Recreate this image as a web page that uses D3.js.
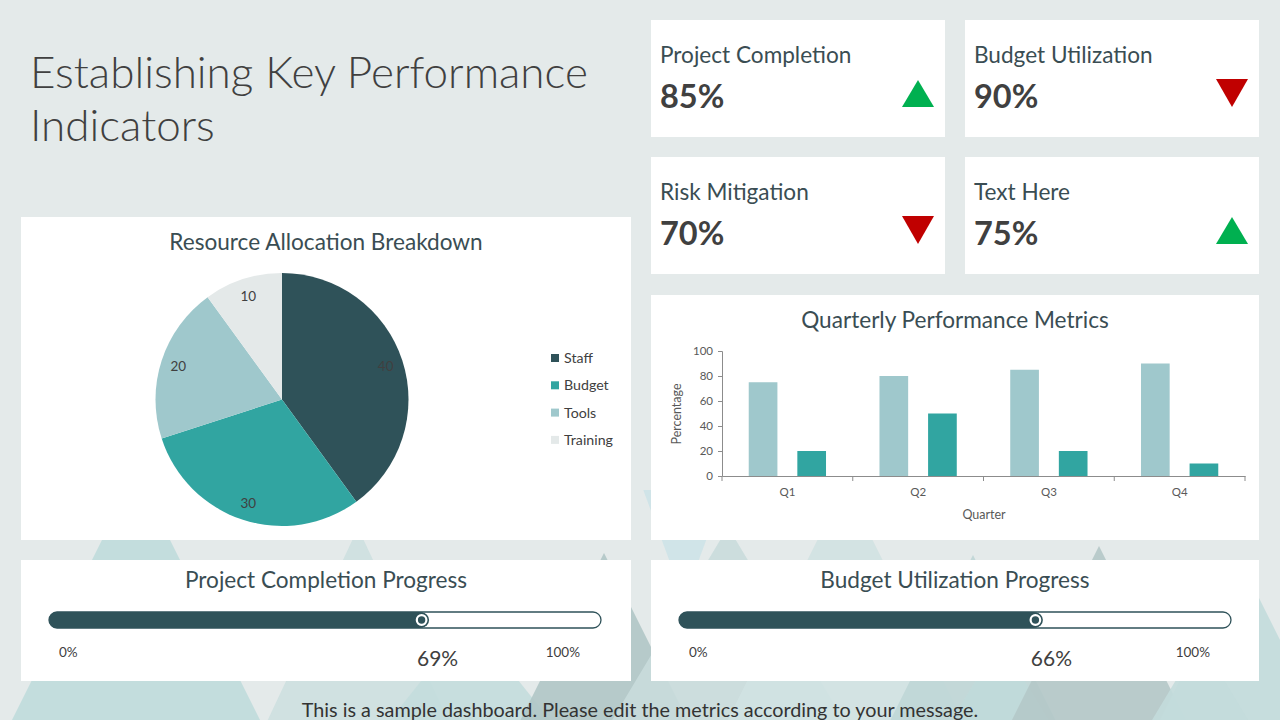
<!DOCTYPE html>
<html><head><meta charset="utf-8">
<script src="https://cdn.jsdelivr.net/npm/d3@7"></script>
<style>
html,body{margin:0;padding:0;background:#e4eaea;}
svg{display:block;font-family:Lato,"Open Sans",sans-serif;}
</style></head>
<body>
<svg id="c" width="1280" height="720"></svg>
<script>
// ---- data ----
const kpiLabels = ["Project Completion", "Budget Utilization", "Risk Mitigation", "Text Here"];
const kpiValues = [85, 90, 70, 75];
const kpiTrend = ["up", "down", "down", "up"];

const pieCategories = ["Staff", "Budget", "Tools", "Training"];
const pieValues = [40, 30, 20, 10];

const quarters = ["Q1", "Q2", "Q3", "Q4"];
const seriesNames = ["Target", "Actual"];
const seriesA = [75, 80, 85, 90];
const seriesB = [20, 50, 20, 10];
const yTicks = [0, 20, 40, 60, 80, 100];

const progressTitles = ["Project Completion Progress", "Budget Utilization Progress"];
const progressValues = [69, 66];

// ---- styles ----
const C = {
  bg: "#e4eaea", dark: "#2f5259", teal: "#31a5a1", light: "#9fc8cc", pale: "#e4e9e9",
  text: "#404040", title: "#3a4d53", green: "#00b050", red: "#c00000", axis: "#8c8c8c"
};
const pieColors = [C.dark, C.teal, C.light, C.pale];

const svg = d3.select("#c");
svg.append("rect").attr("width", 1280).attr("height", 720).attr("fill", C.bg);

// background triangles [apexX, apexY, slope, colour, inverted]
const tris = [
  [136, 472, 0.5, "#bfdcdc", 0], [358, 528, 0.47, "#cde0e0", 0], [470, 620, 0.8, "#c3dddd", 0],
  [604, 553, 0.5, "#b0c7c7", 0], [684, 600, 0.37, "#cde3e8", 1], [728, 527, 0.6, "#c9dcdc", 0],
  [845, 485, 0.5, "#d0e2e2", 0], [973, 555, 0.5, "#bfd6d6", 0], [1000, 640, 0.6, "#c0dada", 0],
  [1099, 546, 0.5, "#b4c8c8", 0], [1240, 560, 0.5, "#c2dcdc", 0], [1200, 640, 0.6, "#c3dcdc", 0]
];
svg.append("g").selectAll("path").data(tris).join("path")
  .attr("d", d => {
    if (d[4]) { const h = d[2] * (d[1] - 490); return `M${d[0]},${d[1]}L${d[0]+h},490L${d[0]-h},490Z`; }
    const h = d[2] * (730 - d[1]);
    return `M${d[0]},${d[1]}L${d[0]+h},730L${d[0]-h},730Z`;
  })
  .attr("fill", d => d[3]).attr("opacity", 0.9);

// title
const t = svg.append("text").attr("x", 30).attr("fill", C.text)
  .attr("font-size", 44).attr("font-weight", 300);
t.append("tspan").attr("x", 30).attr("y", 88).text("Establishing Key Performance");
t.append("tspan").attr("x", 30).attr("y", 141).text("Indicators");

// KPI cards
const cardX = [651, 965], cardY = [20, 157], cardW = 294, cardH = 117;
kpiLabels.forEach((lab, i) => {
  const x0 = cardX[i % 2], y0 = cardY[Math.floor(i / 2)];
  const g = svg.append("g").attr("transform", `translate(${x0},${y0})`);
  g.append("rect").attr("width", cardW).attr("height", cardH).attr("fill", "#fff");
  g.append("text").attr("x", 9).attr("y", 43).attr("font-size", 22.6).attr("fill", C.title).text(lab);
  g.append("text").attr("x", 9).attr("y", 88).attr("font-size", 32.5).attr("font-weight", 700)
    .attr("fill", C.text).text(kpiValues[i] + "%");
  const cx = cardW - 27, w = 16;
  const up = kpiTrend[i] === "up";
  const d = up ? `M${cx},60L${cx+w},87L${cx-w},87Z` : `M${cx-w},59L${cx+w},59L${cx},87Z`;
  g.append("path").attr("d", d).attr("fill", up ? C.green : C.red);
});

// Pie panel
svg.append("rect").attr("x", 21).attr("y", 217).attr("width", 610).attr("height", 323).attr("fill", "#fff");
svg.append("text").attr("x", 326).attr("y", 250).attr("text-anchor", "middle").attr("font-size", 22.6)
  .attr("fill", C.title).text("Resource Allocation Breakdown");
const pie = d3.pie().sort(null).value(d => d);
const R = 126.5;
const arc = d3.arc().innerRadius(0).outerRadius(R);
const labArc = d3.arc().innerRadius(109).outerRadius(109);
const pg = svg.append("g").attr("transform", "translate(282,399.5)");
const arcs = pie(pieValues);
pg.selectAll("path").data(arcs).join("path").attr("d", arc).attr("fill", (d, i) => pieColors[i]);
pg.selectAll("text").data(arcs).join("text")
  .attr("transform", d => `translate(${labArc.centroid(d)})`)
  .attr("text-anchor", "middle").attr("dy", "0.35em").attr("font-size", 13.5).attr("fill", C.text)
  .text(d => d.data);
const lg = svg.append("g").attr("transform", "translate(551,358)");
pieCategories.forEach((c, i) => {
  lg.append("rect").attr("x", 0).attr("y", i * 27.3 - 4).attr("width", 8).attr("height", 8).attr("fill", pieColors[i]);
  lg.append("text").attr("x", 13).attr("y", i * 27.3).attr("dy", "0.35em").attr("font-size", 14.2)
    .attr("fill", C.text).text(c);
});

// Bar panel
svg.append("rect").attr("x", 651).attr("y", 295).attr("width", 608).attr("height", 245).attr("fill", "#fff");
svg.append("text").attr("x", 955).attr("y", 328).attr("text-anchor", "middle").attr("font-size", 22.6)
  .attr("fill", C.title).text("Quarterly Performance Metrics");
const x = d3.scaleBand().domain(quarters).range([722, 1245]);
const xs = d3.scaleBand().domain(seriesNames).range([0, x.bandwidth()]).paddingInner(0.41).paddingOuter(0.55);
const y = d3.scaleLinear().domain([0, 100]).range([476, 351]);
const bg = svg.append("g");
const barData = quarters.flatMap((q, i) => [
  {q, s: seriesNames[0], v: seriesA[i], c: C.light},
  {q, s: seriesNames[1], v: seriesB[i], c: C.teal}
]);
bg.selectAll("rect").data(barData).join("rect")
  .attr("x", d => x(d.q) + xs(d.s)).attr("width", xs.bandwidth())
  .attr("y", d => y(d.v)).attr("height", d => y(0) - y(d.v)).attr("fill", d => d.c);
const ya = svg.append("g").attr("transform", "translate(722,0)")
  .call(d3.axisLeft(y).tickValues(yTicks).tickSize(4).tickPadding(5));
const xa = svg.append("g").attr("transform", "translate(0,476)")
  .call(d3.axisBottom(x).tickSize(0).tickPadding(12));
[ya, xa].forEach(a => {
  a.select(".domain").attr("stroke", C.axis);
  a.selectAll(".tick line").attr("stroke", C.axis);
  a.selectAll("text").attr("fill", "#595959").attr("font-size", 11.5).attr("font-family", "Lato,sans-serif");
});
const bounds = quarters.map(q => x(q)).concat([x(quarters[3]) + x.bandwidth()]);
xa.selectAll(".bnd").data(bounds).join("line").attr("class", "bnd")
  .attr("x1", d => d).attr("x2", d => d).attr("y1", 0).attr("y2", 5).attr("stroke", C.axis);
svg.append("text").attr("transform", "translate(681,414) rotate(-90)").attr("text-anchor", "middle")
  .attr("font-size", 12.5).attr("fill", "#595959").text("Percentage");
svg.append("text").attr("x", 984).attr("y", 519).attr("text-anchor", "middle")
  .attr("font-size", 12.5).attr("fill", "#595959").text("Quarter");

// Progress panels
const panX = [21, 651];
progressTitles.forEach((tt, i) => {
  const px = panX[i];
  const g = svg.append("g").attr("transform", `translate(${px},560)`);
  g.append("rect").attr("width", i ? 608 : 610).attr("height", 121).attr("fill", "#fff");
  g.append("text").attr("x", i ? 304 : 305).attr("y", 28).attr("text-anchor", "middle").attr("font-size", 22.6)
    .attr("fill", C.title).text(tt);
  const p = d3.scaleLinear().domain([0, 100]).range([28, 568]);
  g.append("rect").attr("x", 28).attr("y", 52).attr("width", 552).attr("height", 16).attr("rx", 8)
    .attr("fill", "#fff").attr("stroke", C.dark).attr("stroke-width", 1.3);
  g.append("rect").attr("x", 28).attr("y", 52).attr("width", p(progressValues[i]) - 28 + 6).attr("height", 16)
    .attr("rx", 8).attr("fill", C.dark);
  g.append("circle").attr("cx", p(progressValues[i])).attr("cy", 60).attr("r", 7.5).attr("fill", C.dark);
  g.append("circle").attr("cx", p(progressValues[i])).attr("cy", 60).attr("r", 4.8)
    .attr("fill", C.dark).attr("stroke", "#fff").attr("stroke-width", 2.2);
  g.append("text").attr("x", 38).attr("y", 97).attr("font-size", 13.5).attr("fill", C.text).text(p.domain()[0] + "%");
  g.append("text").attr("x", 559).attr("y", 97).attr("text-anchor", "end").attr("font-size", 13.5)
    .attr("fill", C.text).text(p.domain()[1] + "%");
  g.append("text").attr("x", p(progressValues[i]) + 16).attr("y", 106).attr("text-anchor", "middle")
    .attr("font-size", 21).attr("fill", C.text).text(progressValues[i] + "%");
});

// footer
svg.append("text").attr("x", 640).attr("y", 717).attr("text-anchor", "middle").attr("font-size", 19.8)
  .attr("fill", "#333").text("This is a sample dashboard. Please edit the metrics according to your message.");
</script>
</body></html>
